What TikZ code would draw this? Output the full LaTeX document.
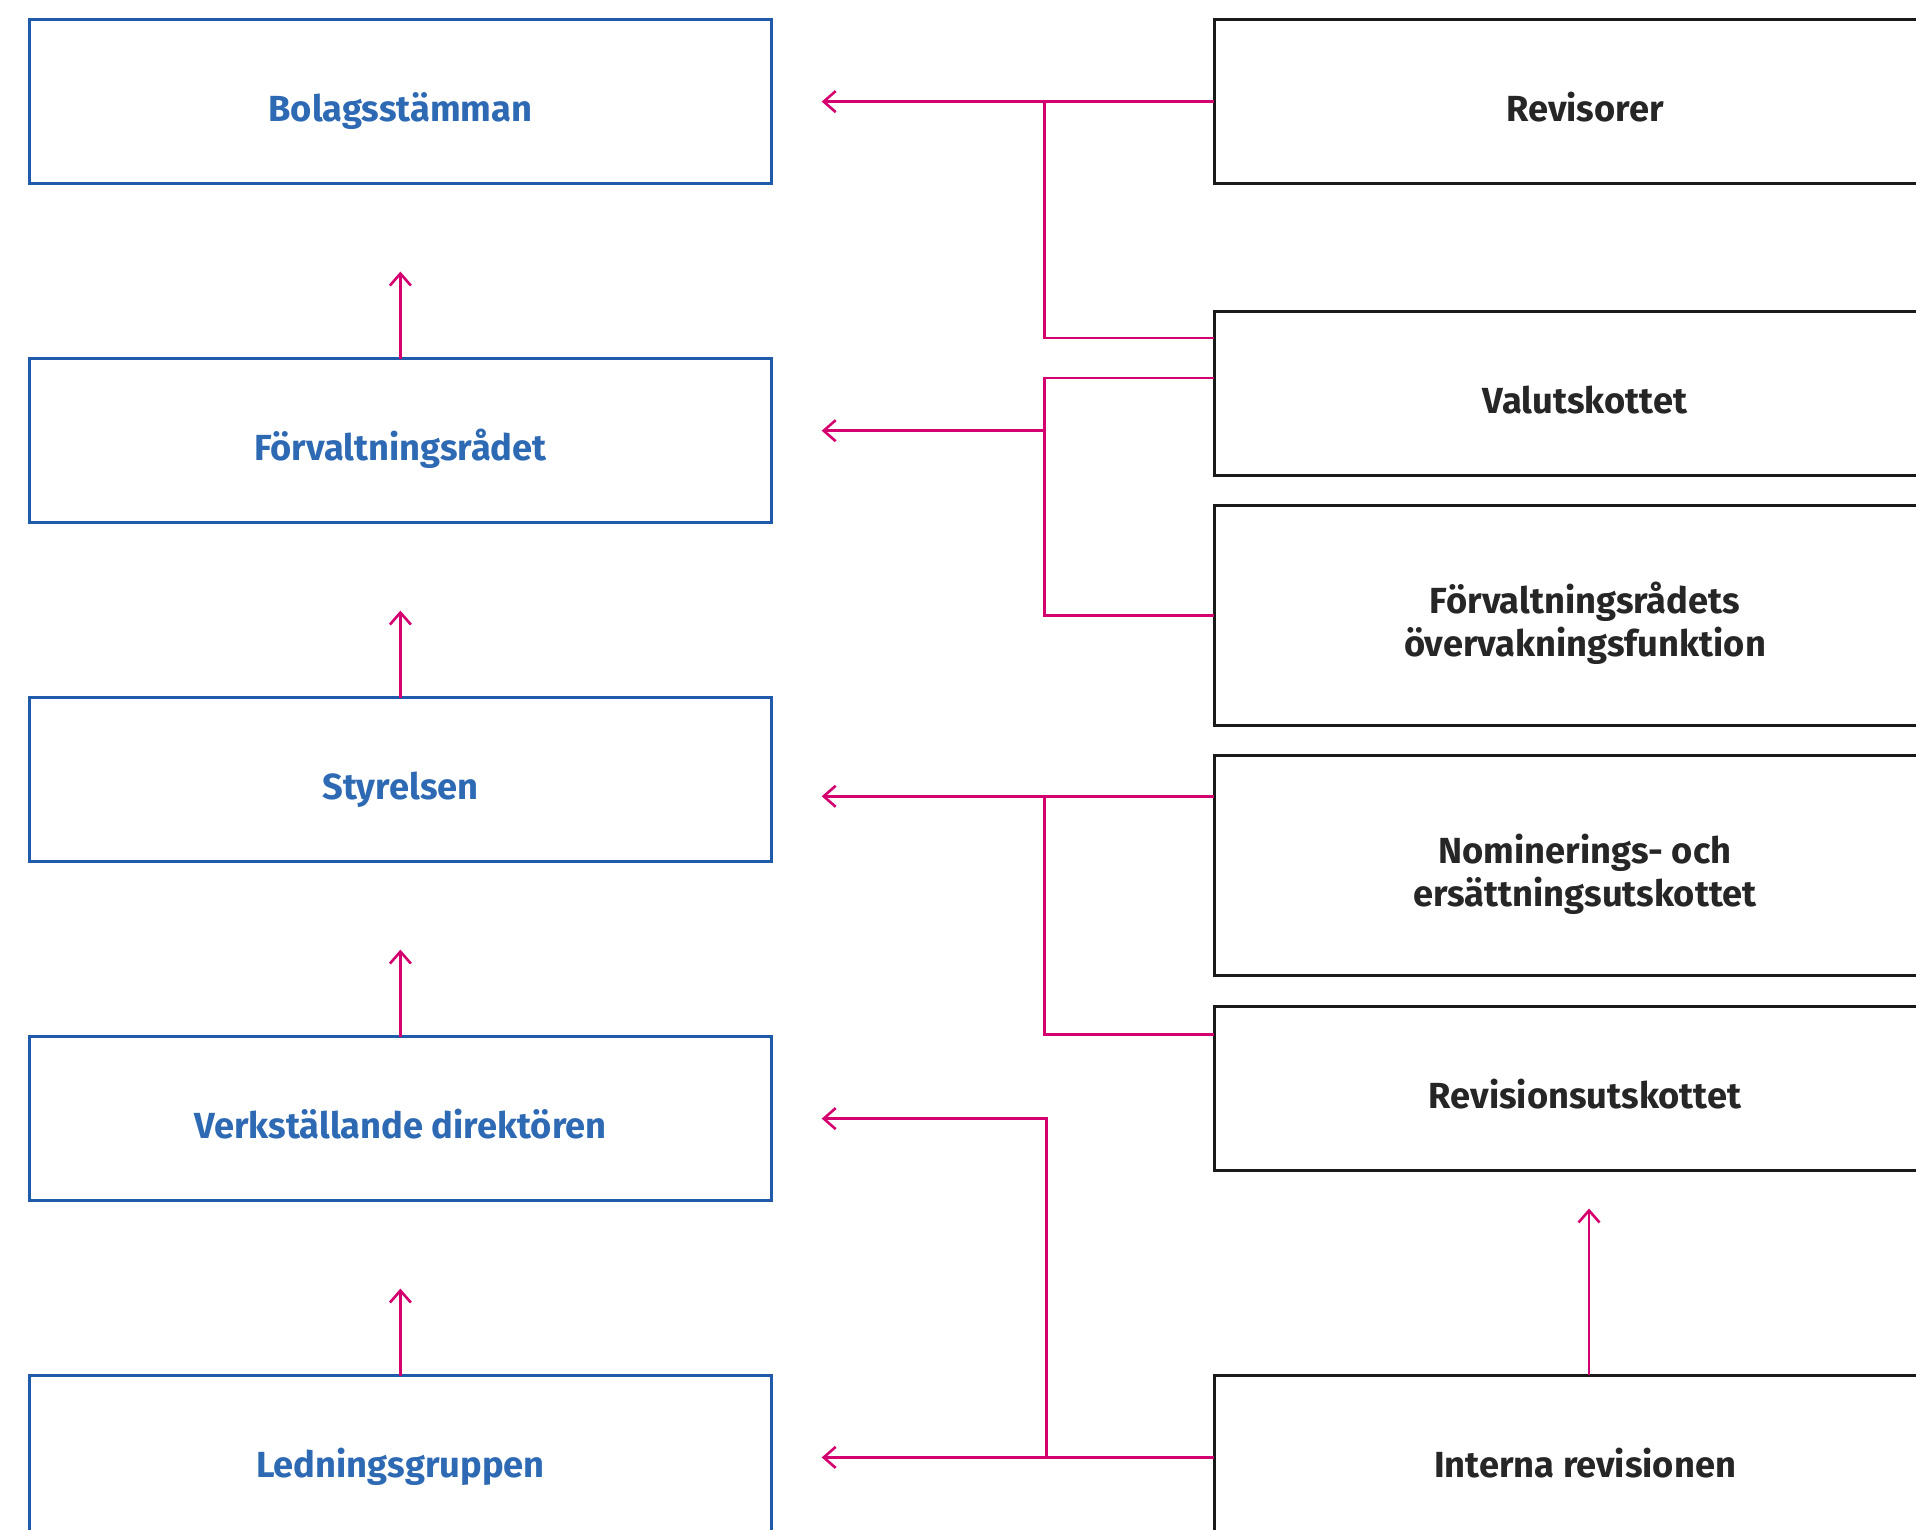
\documentclass[tikz,border=0pt]{standalone}
\usepackage{fontspec}
\setmainfont{Fira Sans}
\usetikzlibrary{arrows.meta,calc}
\definecolor{bluebox}{HTML}{1F5BAA}
\definecolor{bluetext}{HTML}{2E6AB3}
\definecolor{mag}{HTML}{D4006F}
\definecolor{darktext}{HTML}{262626}
\definecolor{darkbox}{HTML}{1A1A1A}
\begin{document}
\begin{tikzpicture}[x=1pt,y=-1pt,
  lbox/.style={draw=bluebox,line width=3pt,minimum width=742pt,minimum height=164pt,inner sep=0pt,outer sep=0pt},
  rbox/.style={draw=darkbox,line width=3pt,minimum width=742pt,minimum height=164pt,inner sep=0pt,outer sep=0pt},
  tallbox/.style={minimum height=220pt},
  ltext/.style={font=\fontsize{36.3}{43.5}\selectfont\bfseries,text=bluetext,anchor=base,align=center,inner sep=0pt},
  rtext/.style={font=\fontsize{36.3}{43.5}\selectfont\bfseries,text=darktext,anchor=base,align=center,inner sep=0pt},
  conn/.style={draw=mag,line width=2.6pt},
  arr/.style={conn,-{Straight Barb[length=12pt,width=21pt]}}
]
\path[use as bounding box] (0,0) rectangle (1916,1530);
\clip (0,0) rectangle (1916,1530);

% left column
\node[lbox] (bolag) at (400.4,101.6) {};
\node[lbox] (forv)  at (400.4,440.6) {};
\node[lbox] (styr)  at (400.4,779.6) {};
\node[lbox] (vd)    at (400.4,1118.6) {};
\node[lbox] (led)   at (400.4,1457.6) {};

\node[ltext] (bolag-t) at ([yshift=-20.3pt]bolag.center) {Bolagsstämman};
\node[ltext] (forv-t)  at ([yshift=-20.3pt]forv.center) {Förvaltningsrådet};
\node[ltext] (styr-t)  at ([yshift=-20.3pt]styr.center) {Styrelsen};
\node[ltext] (vd-t)    at ([yshift=-20.3pt]vd.center) {Verkställande direktören};
\node[ltext] (led-t)   at ([yshift=-20.3pt]led.center) {Ledningsgruppen};

% right column
\node[rbox] (revisorer) at (1585,101.6) {};
\node[rbox] (valut)     at (1585,393.5) {};
\node[rbox,tallbox] (fovf) at (1585,615.6) {};
\node[rbox,tallbox] (nom)  at (1585,865) {};
\node[rbox] (revut)     at (1585,1088) {};
\node[rbox] (intrev)    at (1585,1457.4) {};

\node[rtext] (revisorer-t) at ([yshift=-20.3pt]revisorer.center) {Revisorer};
\node[rtext] (valut-t)     at ([yshift=-20.3pt]valut.center) {Valutskottet};
\node[rtext] (fovf-t)      at ([yshift=-41pt]fovf.center) {Förvaltningsrådets\\övervakningsfunktion};
\node[rtext] (nom-t)       at ([yshift=-41.5pt]nom.center) {Nominerings- och\\ersättningsutskottet};
\node[rtext] (revut-t)     at ([yshift=-20.3pt]revut.center) {Revisionsutskottet};
\node[rtext] (intrev-t)    at ([yshift=-20.3pt]intrev.center) {Interna revisionen};

% junction columns
\coordinate (jtop) at (1044.5,0);
\coordinate (jbot) at (1046.7,0);

% left vertical arrows
\draw[arr,shorten >=88pt] (forv.north) -- (bolag.south);
\draw[arr,shorten >=88pt] (styr.north) -- (forv.south);
\draw[arr,shorten >=88pt] (vd.north) -- (styr.south);
\draw[arr,shorten >=88pt] (led.north) -- (vd.south);

% Revisorer -> Bolagsstämman, branch to Valutskottet
\draw[arr,shorten >=50.3pt] (revisorer.west) -- (bolag.east);
\coordinate (v1) at ([yshift=-26.5pt]valut.north west);
\draw[conn] (revisorer.west -| jtop) |- (v1);

% Valutskottet / övervakningsfunktion -> Förvaltningsrådet
\coordinate (v2) at ([yshift=-66.5pt]valut.north west);
\draw[conn] (v2) -| (jtop |- fovf.west) -- (fovf.west);
\coordinate (a2) at (1044.5,430.7);
\draw[arr,shorten >=50.3pt] (a2) -- (a2 -| forv.east);

% Nominerings -> Styrelsen, branch to Revisionsutskottet
\coordinate (n1) at ([yshift=-41.3pt]nom.north west);
\draw[arr,shorten >=50.3pt] (n1) -- (n1 -| styr.east);
\coordinate (r1) at ([yshift=-28.4pt]revut.north west);
\draw[conn] (n1 -| jtop) |- (r1);

% Interna revisionen -> Ledningsgruppen and VD
\draw[arr,shorten >=50.3pt] (intrev.west) -- (intrev.west -| led.east);
\draw[arr,shorten >=50.3pt] (intrev.west -| jbot) |- (vd.east);

% Interna revisionen -> Revisionsutskottet
\draw[arr,shorten >=38.5pt] ([xshift=4pt]intrev.north) -- ([xshift=4pt]revut.south);
\end{tikzpicture}
\end{document}
